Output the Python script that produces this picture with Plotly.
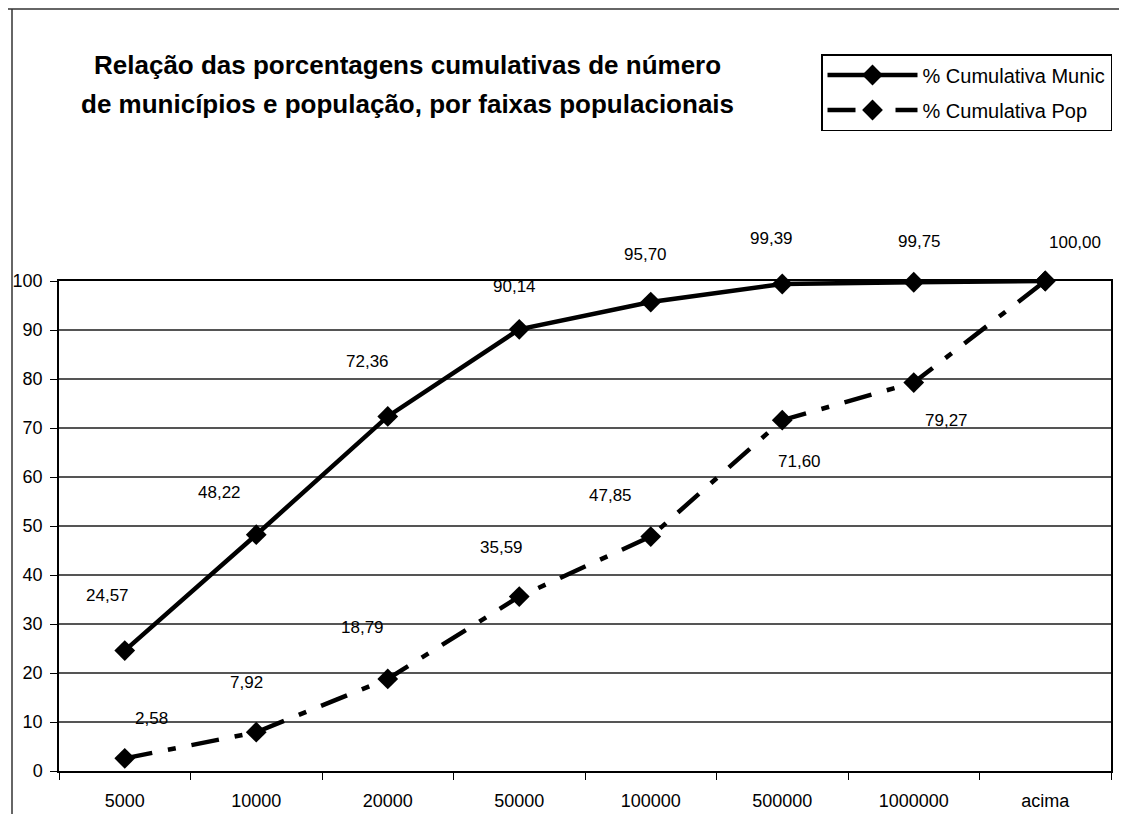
import plotly.graph_objects as go

faixas = ["5000", "10000", "20000", "50000", "100000", "500000", "1000000", "acima"]
cum_munic = [24.57, 48.22, 72.36, 90.14, 95.70, 99.39, 99.75, 100.00]
cum_pop = [2.58, 7.92, 18.79, 35.59, 47.85, 71.60, 79.27, 100.00]

# label offsets in px (dx, dy screen; negative dy = above), as placed in the original
munic_offsets = [(-17, -55), (-37, -42), (-20, -55), (-5, -43), (-5, -48), (-11, -45), (6, -41), (30, -39)]
pop_offsets = [(27, -40), (-10, -50), (-25, -51), (-18, -49), (-40, -41), (17, 41), (33, 38), None]

FONT = "Arial, Liberation Sans, sans-serif"
PAGE = 8  # default body margin of the html page
W, H = 1127 - PAGE, 814 - PAGE
L, R, T, B = 59 - PAGE, 1127 - 1111, 281 - PAGE, 814 - 771
PW, PH = W - L - R, H - T - B


def px_x(px):
    # px measured on the screenshot
    return (px - PAGE - L) / PW


def px_y(py):
    return (H - B - (py - PAGE)) / PH


def fmt(v):
    return f"{v:.2f}".replace(".", ",")


fig = go.Figure()
fig.add_trace(
    go.Scatter(
        x=faixas,
        y=cum_munic,
        mode="lines+markers",
        line=dict(color="black", width=4.5),
        marker=dict(symbol="diamond", size=16, color="black"),
        name="% Cumulativa Munic",
        legendgroup="a",
        cliponaxis=False,
    )
)
fig.add_trace(
    go.Scatter(
        x=faixas,
        y=cum_pop,
        mode="lines+markers",
        line=dict(color="black", width=4.5, dash="28px,16px,8px,16px"),
        marker=dict(symbol="diamond", size=16, color="black"),
        name="% Cumulativa Pop",
        legendgroup="b",
        cliponaxis=False,
    )
)

# category axis: annotations use the category index
for i, (v, off) in enumerate(zip(cum_munic, munic_offsets)):
    fig.add_annotation(x=i, y=v, text=fmt(v), showarrow=False, xshift=off[0], yshift=-off[1],
                       font=dict(family=FONT, size=17, color="black"))
for i, (v, off) in enumerate(zip(cum_pop, pop_offsets)):
    if off is None:
        continue
    fig.add_annotation(x=i, y=v, text=fmt(v), showarrow=False, xshift=off[0], yshift=-off[1],
                       font=dict(family=FONT, size=17, color="black"))

title_lines = ["Relação das porcentagens cumulativas de número",
               "de municípios e população, por faixas populacionais"]
for line, py in zip(title_lines, [65, 104]):
    fig.add_annotation(xref="paper", yref="paper", x=px_x(407), y=px_y(py), text=f"<b>{line}</b>",
                       showarrow=False, xanchor="center", yanchor="middle",
                       font=dict(family=FONT, size=26, color="black"))

# scanned page frame
fig.add_shape(type="line", xref="paper", yref="paper", x0=px_x(PAGE), x1=px_x(1127), y0=px_y(9), y1=px_y(9),
              line=dict(color="#333", width=1.5))
fig.add_shape(type="line", xref="paper", yref="paper", x0=px_x(12), x1=px_x(12), y0=px_y(9), y1=px_y(814),
              line=dict(color="#333", width=1.5))

fig.update_layout(
    width=W,
    height=H,
    margin=dict(l=L, r=R, t=T, b=B, autoexpand=False),
    paper_bgcolor="white",
    plot_bgcolor="white",
    font=dict(family=FONT, color="black"),
    showlegend=True,
    legend=dict(
        x=px_x(821), y=px_y(54), xanchor="left", yanchor="top",
        bordercolor="black", borderwidth=1.5, bgcolor="white",
        font=dict(family=FONT, size=20, color="black"),
        itemwidth=90, traceorder="grouped", tracegroupgap=6,
    ),
)
fig.update_xaxes(
    type="category", range=[-0.5, 7.5], showgrid=False, showline=True, linecolor="black", linewidth=1.5,
    mirror=True, ticks="outside", tickson="boundaries", ticklen=7, tickcolor="black",
    tickfont=dict(family=FONT, size=18, color="black"), ticklabelstandoff=13,
)
fig.update_yaxes(
    range=[0, 100], dtick=10, showgrid=True, gridcolor="#555", gridwidth=1.5, showline=True,
    linecolor="black", linewidth=1.5, mirror=True, ticks="outside", ticklen=7, tickcolor="black",
    tickfont=dict(family=FONT, size=18, color="black"), zeroline=False, ticklabelstandoff=4,
)

fig.write_html("out.html")
